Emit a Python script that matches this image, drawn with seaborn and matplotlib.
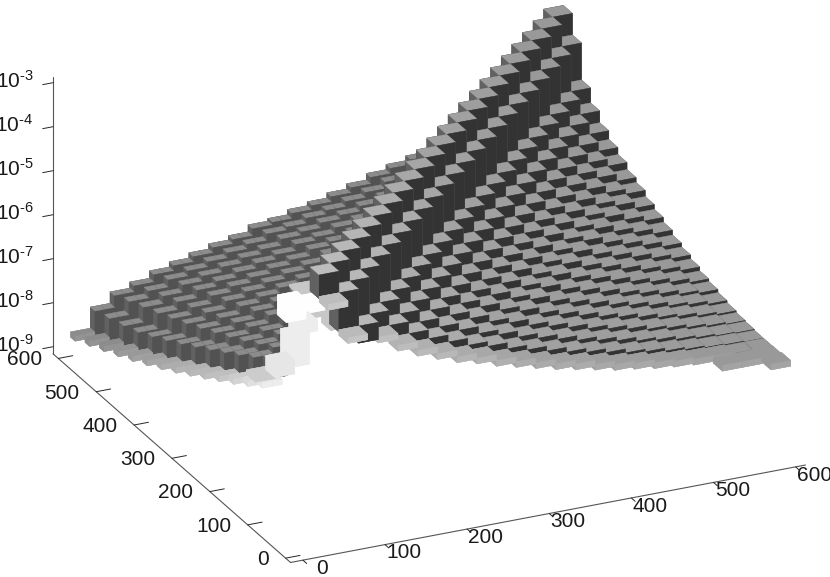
import matplotlib
matplotlib.use('Agg')
import matplotlib.pyplot as plt
import seaborn as sns

# exponents of the height (z axis is 10^level)
z_ticks = [-9, -8, -7, -6, -5, -4, -3]
z_labels = ['$\\mathdefault{10^{\u2010%d}}$' % -t for t in z_ticks]
xy_ticks = [0, 100, 200, 300, 400, 500, 600]

# right hand part: one level for each diagonal run of bars, counted from the ridge
diag_levels = [-3.31, -3.80, -4.64, -4.98, -5.25, -5.45, -5.61, -5.77, -5.88, -6.02,
               -6.13, -6.24, -6.35, -6.44, -6.53, -6.62, -6.68, -6.75, -6.80, -6.84,
               -6.86, -6.88, -6.88, -6.87, -6.84]
diag_counts = [23, 23, 22, 20, 19, 18, 17, 16, 15, 14, 13, 12, 11, 10, 9, 8, 7, 6, 5, 4, 3, 3, 2, 1, 1]
run_gray = [.60, .60, .60, .60, .61, .61, .62, .62, .62, .63, .63, .63,
            .64, .65, .66, .67, .68, .69, .70, .71, .72, .73, .74, .75]

# left hand part: curved strips of stairs, from the front strip to the back
strip_levels = [
    [-8.61, -8.68, -8.75, -8.82, -8.88, -8.93, -8.97, -9.0, -9.02, -9.04, -9.05, -9.06, -9.06, -9.05],
    [-8.13, -8.25, -8.37, -8.47, -8.53, -8.57, -8.6, -8.62, -8.63, -8.64, -8.65, -8.65, -8.65],
    [-7.87, -7.95, -8.03, -8.12, -8.2, -8.27, -8.33, -8.38, -8.43, -8.47, -8.5, -8.52],
    [-7.73, -7.8, -7.87, -7.95, -8.03, -8.1, -8.17, -8.23, -8.28, -8.32, -8.35],
    [-7.56, -7.63, -7.7, -7.77, -7.85, -7.92, -7.99, -8.05, -8.1, -8.14],
    [-7.44, -7.51, -7.58, -7.65, -7.72, -7.79, -7.86, -7.92, -7.97],
    [-7.32, -7.39, -7.46, -7.53, -7.6, -7.67, -7.74, -7.8],
    [-7.2, -7.27, -7.34, -7.41, -7.48, -7.55, -7.62, -7.68],
    [-7.1, -7.16, -7.23, -7.3, -7.37, -7.44, -7.5],
    [-6.94, -7.01, -7.08, -7.15, -7.22, -7.28],
    [-6.88, -6.94, -7.0, -7.07, -7.13],
    [-6.76, -6.82, -6.88, -6.94, -7.0],
    [-6.67, -6.73, -6.79, -6.85],
    [-6.55, -6.61, -6.67],
    [-6.43, -6.49, -6.55],
    [-6.28, -6.34],
    [-6.16],
    [-6.05],
]
front_strip_gray = [.55, .55, .55, .58, .60, .62, .65, .68, .70, .72, .75, .80, .85, .90]

# pale bars in the notch below the end of the ridge
pale_x = [32, 55, 46, 36, 18, 12, 47, 67, 86]
pale_y = [100, 100, 100, 100, 100, 138, 100, 100, 100]
pale_top = [-4.28, -4.34, -4.80, -5.06, -5.61, -6.20, -4.10, -4.47, -4.85]
pale_base = [-4.73, -4.61, -5.05, -5.77, -5.93, -6.30, -4.15, -4.74, -5.10]
pale_gray = [.995, .995, .93, .93, .90, .80, .78, .78, .78]

sns.set_theme(style='white', rc={'mathtext.default': 'regular'})
plt.rcParams['font.family'] = ['Liberation Sans', 'DejaVu Sans']

fig = plt.figure(figsize=(8.3, 5.77), dpi=100, facecolor='w')
size = 831
ax = fig.add_axes([(418 - size / 2) / 830, (295 - size / 2) / 577, size / 830, size / 577],
                  projection='3d', proj_type='ortho', computed_zorder=False)
ax.set_box_aspect((566.5, 563, 303))
ax.view_init(elev=24.07, azim=-114.9)


def grey(g):
    return (g, g, g)


bars = []


def add_bar(x, y, d, top, base, g_top, g_front, g_side):
    bars.append((x, y, d, top, base, g_top, g_front, g_side))


# right hand part, run along each diagonal away from the x=600 edge
for k, level in enumerate(diag_levels):
    for n in range(diag_counts[k]):
        x = 576 - 24 * n
        y = 576 - 24 * k - 24 * n
        if n == diag_counts[k] - 1 and k > 0:
            add_bar(x, y, 24, level, level - .13, run_gray[n], run_gray[n] + .04, run_gray[n])
        else:
            low = min(diag_levels[k + 1], level) if k + 1 < len(diag_levels) else level
            add_bar(x, y, 24, level, low - .05, run_gray[n], .2, .38)

# left hand part
for s, row in enumerate(strip_levels):
    for t, level in enumerate(row):
        if s == 0:
            g = front_strip_gray[t]
            top, low, g_front, g_side = g, level - .12, g + .03, g
        else:
            below = strip_levels[s - 1]
            low = below[min(t + 1, len(below) - 1)] - .05
            top, g_front, g_side = .55, .32, .38
        add_bar(24 * s + 12 * t, 588 - 12 * t, 12, level, low, top, g_front, g_side)
        add_bar(24 * s + 12 * t + 12, 588 - 12 * t, 12, level, low, top, g_front, g_side)

for x, y, top, base, g in zip(pale_x, pale_y, pale_top, pale_base, pale_gray):
    add_bar(x, y, 24, top, base, g, g, g)

# back to front, so nearer stairs cover the further ones
bars.sort(key=lambda b: -(.424 * b[0] + .906 * b[1]))
for order, (x, y, d, top, base, g_top, g_front, g_side) in enumerate(bars):
    colors = [grey(g_front), grey(g_top), grey(g_front), grey(g_front), grey(g_side), grey(g_side)]
    ax.bar3d(x, y, base, d, d, top - base, color=colors, shade=False,
             edgecolor=colors, linewidth=.3, zorder=order + 10)

xlim = (-15, 612)
ylim = (-13, 614)
zlim = (-9.16, -2.86)
ax.set_xlim(*xlim)
ax.set_ylim(*ylim)
ax.set_zlim(*zlim)
ax.set_xticks(xy_ticks)
ax.set_yticks(xy_ticks)
ax.set_zticks(z_ticks)
ax.set_xticklabels([])
ax.set_yticklabels([])
ax.set_zticklabels([])
ax.grid(False)
for axis, out in ((ax.xaxis, -.2), (ax.yaxis, .35), (ax.zaxis, -.25)):
    axis.set_pane_color((1, 1, 1, 0))
    axis.pane.set_edgecolor((1, 1, 1, 0))
    axis.line.set_color('#555555')
    axis.line.set_linewidth(.8)
    axis._axinfo['tick'].update({'inward_factor': 0, 'outward_factor': out,
                                 'linewidth': {True: .7, False: .5}, 'color': '#555555'})
ax.patch.set_alpha(0)

# tick labels as text next to the ticks, axis 3d moves its own ones too far out
for v in xy_ticks:
    ax.text(v + 29, ylim[0] + 13, zlim[0] - .39, str(v), fontsize=15, color='k',
            ha='center', va='center', zorder=5000)
    ax.text(xlim[0] - 20, v, zlim[0] + .04, str(v), fontsize=15, color='k',
            ha='right', va='center', zorder=5000)
for v, lab in zip(z_ticks, z_labels):
    ax.text(xlim[0] - 24, ylim[1], v + .13, lab, fontsize=15, color='k',
            ha='right', va='center', zorder=5000)

fig.savefig('out.png', dpi=100, facecolor='w')
plt.close(fig)
